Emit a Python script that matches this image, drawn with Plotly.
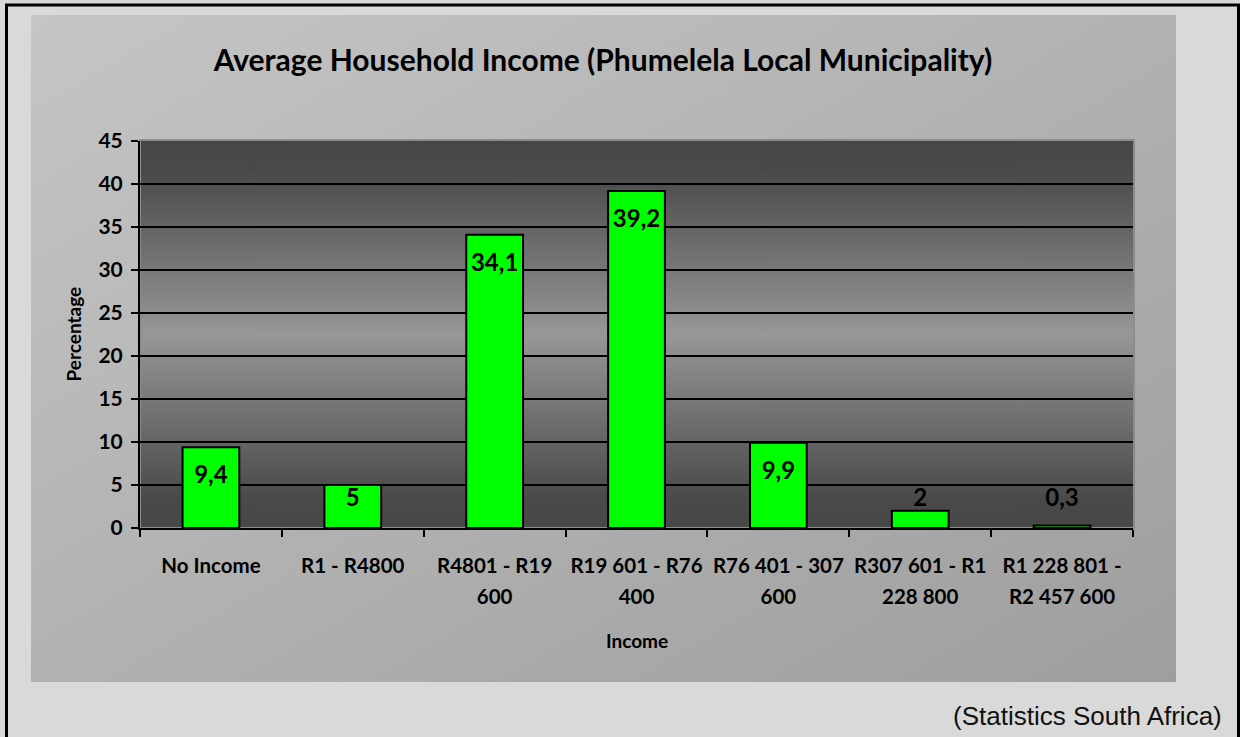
import base64
import plotly.graph_objects as go

# ---------------- data ----------------
categories = ["No Income", "R1 - R4800", "R4801 - R19 600", "R19 601 - R76 400",
              "R76 401 - 307 600", "R307 601 - R1 228 800", "R1 228 801 - R2 457 600"]
tick_lines = [["No Income"], ["R1 - R4800"], ["R4801 - R19", "600"], ["R19 601 - R76", "400"],
              ["R76 401 - 307", "600"], ["R307 601 - R1", "228 800"], ["R1 228 801 -", "R2 457 600"]]
percentages = [9.4, 5, 34.1, 39.2, 9.9, 2, 0.3]
value_labels = ["9,4", "5", "34,1", "39,2", "9,9", "2", "0,3"]
y_ticks = [0, 5, 10, 15, 20, 25, 30, 35, 40, 45]

TITLE = "Average Household Income (Phumelela Local Municipality)"
SOURCE = "(Statistics South Africa)"

# ---------------- layout geometry (pixels) ----------------
W, H = 1240, 737
PL, PR, PT, PB = 140, 1133, 141, 528        # plot area
CL, CR, CT, CB = 31, 1176, 15, 682          # chart area
PW, PH = PR - PL, PB - PT


def px_x(x):
    return (x - PL) / PW


def px_y(y):
    return (PB - y) / PH


def svg_uri(svg):
    return "data:image/svg+xml;base64," + base64.b64encode(svg.encode()).decode()


chart_bg = svg_uri(
    '<svg xmlns="http://www.w3.org/2000/svg" width="100" height="100" viewBox="0 0 100 100" '
    'preserveAspectRatio="none"><defs><linearGradient id="g" x1="0" y1="0" x2="1" y2="1">'
    '<stop offset="0" stop-color="#c5c5c5"/><stop offset="1" stop-color="#9e9e9e"/>'
    '</linearGradient></defs><rect width="100" height="100" fill="url(#g)"/></svg>')
plot_bg = svg_uri(
    '<svg xmlns="http://www.w3.org/2000/svg" width="100" height="100" viewBox="0 0 100 100" '
    'preserveAspectRatio="none"><defs><linearGradient id="g" x1="0" y1="0" x2="0" y2="1">'
    '<stop offset="0" stop-color="#464646"/><stop offset="0.08" stop-color="#4a4a4a"/>'
    '<stop offset="0.5" stop-color="#979797"/><stop offset="0.92" stop-color="#4a4a4a"/>'
    '<stop offset="1" stop-color="#474747"/>'
    '</linearGradient></defs><rect width="100" height="100" fill="url(#g)"/></svg>')

FONT = "Lato"
px_per_unit = PH / 45.0
label_y = [max(v - 30 / px_per_unit, (PB - 500) / px_per_unit) for v in percentages]

ticktext = ["<br>".join(f"<span style='font-size:20.5px'>{s}</span>" for s in lines)
            for lines in tick_lines]

fig = go.Figure()
fig.add_trace(go.Bar(
    x=categories, y=percentages,
    marker=dict(color="#00ff00", line=dict(color="#000000", width=2)),
    hoverinfo="skip",
))
fig.add_trace(go.Scatter(
    x=categories, y=label_y, mode="text", text=value_labels,
    textposition="middle center",
    textfont=dict(family=FONT, size=24, color="#000000", weight="bold"),
    hoverinfo="skip",
))

fig.update_layout(
    width=W, height=H,
    margin=dict(l=PL, r=W - PR, t=PT, b=H - PB, pad=0),
    paper_bgcolor="#d9d9d9",
    plot_bgcolor="#6e6e6e",
    showlegend=False,
    bargap=0.6,
    font=dict(family=FONT, color="#000000"),
    title=dict(text=TITLE, x=603 / W, xref="container", xanchor="center",
               y=1 - 60 / H, yref="container", yanchor="middle",
               font=dict(family=FONT, size=30, color="#000000", weight="bold")),
    xaxis=dict(
        type="category", tickmode="array", tickvals=categories, ticktext=ticktext,
        tickson="boundaries", ticks="outside", ticklen=7, tickwidth=2, tickcolor="#000000",
        showline=True, linecolor="#000000", linewidth=2, showgrid=False, tickangle=0,
        tickfont=dict(family=FONT, size=24, color="#000000", weight="bold"),
        ticklabelstandoff=14, range=[-0.5, 6.5],
    ),
    yaxis=dict(
        range=[0, 45], tickmode="array", tickvals=y_ticks,
        ticks="outside", ticklen=7, tickwidth=2, tickcolor="#000000",
        showline=True, linecolor="#000000", linewidth=2,
        showgrid=True, gridcolor="#000000", gridwidth=2, zeroline=False,
        tickfont=dict(family=FONT, size=21, color="#000000", weight="bold"),
        ticklabelstandoff=4,
    ),
    images=[
        dict(source=chart_bg, xref="paper", yref="paper", x=px_x(CL), y=px_y(CT),
             sizex=(CR - CL) / PW, sizey=(CB - CT) / PH, xanchor="left", yanchor="top",
             sizing="stretch", layer="below"),
        dict(source=plot_bg, xref="paper", yref="paper", x=0, y=1, sizex=1, sizey=1,
             xanchor="left", yanchor="top", sizing="stretch", layer="below"),
    ],
    shapes=[
        dict(type="rect", xref="paper", yref="paper", x0=0, x1=1 + 1 / PW, y0=0, y1=1 + 1 / PH,
             line=dict(color="#8c8c8c", width=2), layer="below"),
        dict(type="rect", xref="paper", yref="paper", x0=px_x(6.5), x1=px_x(1238.5),
             y0=px_y(760), y1=px_y(5), line=dict(color="#000000", width=3), layer="above"),
    ],
    annotations=[
        dict(text="Percentage", xref="paper", yref="paper", x=px_x(73), y=0.5,
             xanchor="center", yanchor="middle", textangle=-90, showarrow=False,
             font=dict(family=FONT, size=19, color="#000000", weight="bold")),
        dict(text="Income", xref="paper", yref="paper", x=0.5, y=px_y(640),
             xanchor="center", yanchor="middle", showarrow=False,
             font=dict(family=FONT, size=19, color="#000000", weight="bold")),
        dict(text=SOURCE, xref="paper", yref="paper", x=px_x(1224), y=px_y(716),
             xanchor="right", yanchor="middle", showarrow=False,
             font=dict(family="Liberation Sans", size=26, color="#111111")),
    ],
)

fig.write_html("out.html")
